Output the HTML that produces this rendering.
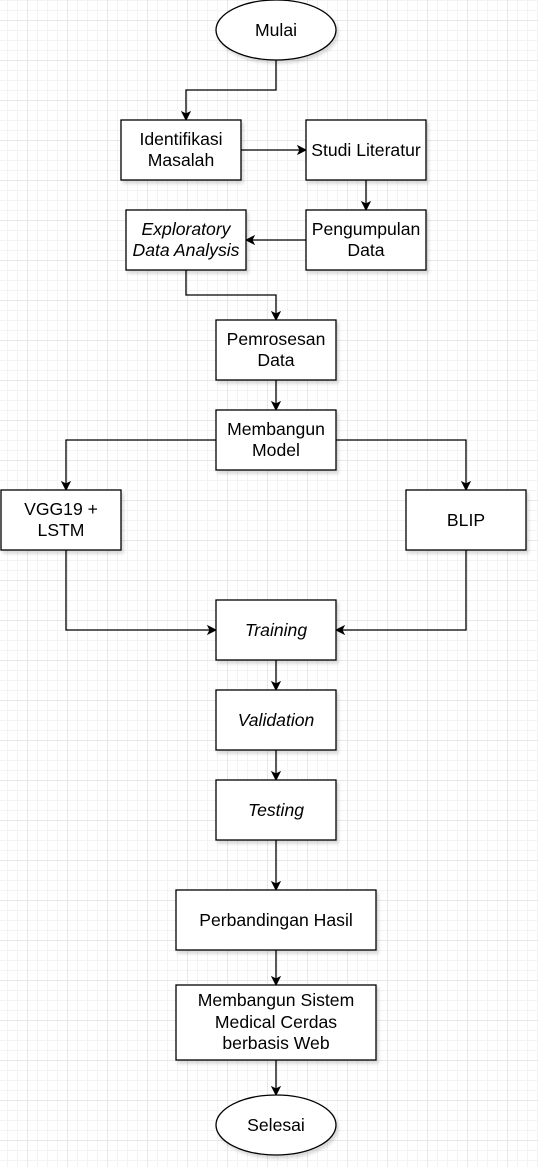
<!DOCTYPE html>
<html><head><style>
html,body{margin:0;padding:0;background:#fff}
body{width:538px;height:1167px;overflow:hidden;
background-image:
linear-gradient(to right,#e8e8e8 1px,transparent 1px),
linear-gradient(to bottom,#e8e8e8 1px,transparent 1px),
linear-gradient(to right,#f3f3f3 1px,transparent 1px),
linear-gradient(to bottom,#f3f3f3 1px,transparent 1px);
background-size:40px 40px,40px 40px,10px 10px,10px 10px;
background-position:27px 20px,27px 20px,7px 0,7px 0;}
svg{position:absolute;left:0;top:0}
text{font-family:"Liberation Sans",sans-serif;font-size:17.6px;fill:#000;text-anchor:middle}
.i{font-style:italic}
rect,ellipse{fill:#fff;stroke:#000;stroke-width:1.3;filter:url(#sh)}
path{fill:none;stroke:#000;stroke-width:1.3}
</style></head><body>
<svg width="538" height="1167" viewBox="0 0 538 1167">
<defs>
<filter id="sh" x="-10%" y="-10%" width="130%" height="130%"><feDropShadow dx="2" dy="3" stdDeviation="1.5" flood-color="#000" flood-opacity="0.15"/></filter>
<marker id="a" markerWidth="10" markerHeight="10" refX="8" refY="5" orient="auto" markerUnits="userSpaceOnUse"><path d="M1,1 L9,5 L1,9 L3,5 Z" style="fill:#000;stroke:#000;stroke-width:1"/></marker>
</defs>
<g marker-end="url(#a)">
<path d="M276,60 V90 H186 V119"/>
<path d="M241,150 H305"/>
<path d="M366,180 V209"/>
<path d="M306,240 H247"/>
<path d="M186,270 V295 H276 V319"/>
<path d="M276,380 V409"/>
<path d="M216,440 H66 V489"/>
<path d="M336,440 H466 V489"/>
<path d="M66,550 V630 H215"/>
<path d="M466,550 V630 H337"/>
<path d="M276,660 V689"/>
<path d="M276,750 V779"/>
<path d="M276,840 V889"/>
<path d="M276,950 V984"/>
<path d="M276,1060 V1094"/>
</g>
<ellipse cx="276" cy="30" rx="60" ry="30"/><text x="276" y="36">Mulai</text>
<rect x="121" y="120" width="120" height="60"/><text x="181" y="145">Identifikasi</text><text x="181" y="166">Masalah</text>
<rect x="306" y="120" width="120" height="60"/><text x="366" y="156">Studi Literatur</text>
<rect x="306" y="210" width="120" height="60"/><text x="366" y="235">Pengumpulan</text><text x="366" y="256">Data</text>
<rect x="126" y="210" width="120" height="60"/><text class="i" x="186" y="235">Exploratory</text><text class="i" x="186" y="256">Data Analysis</text>
<rect x="216" y="320" width="120" height="60"/><text x="276" y="345">Pemrosesan</text><text x="276" y="366">Data</text>
<rect x="216" y="410" width="120" height="60"/><text x="276" y="435">Membangun</text><text x="276" y="456">Model</text>
<rect x="1" y="490" width="120" height="60"/><text x="61" y="515">VGG19 +</text><text x="61" y="536">LSTM</text>
<rect x="406" y="490" width="120" height="60"/><text x="466" y="526">BLIP</text>
<rect x="216" y="600" width="120" height="60"/><text class="i" x="276" y="636">Training</text>
<rect x="216" y="690" width="120" height="60"/><text class="i" x="276" y="726">Validation</text>
<rect x="216" y="780" width="120" height="60"/><text class="i" x="276" y="816">Testing</text>
<rect x="176" y="890" width="200" height="60"/><text x="276" y="926">Perbandingan Hasil</text>
<rect x="176" y="985" width="200" height="75"/><text x="276" y="1006">Membangun Sistem</text><text x="276" y="1028">Medical Cerdas</text><text x="276" y="1049">berbasis Web</text>
<ellipse cx="276" cy="1125" rx="60" ry="30"/><text x="276" y="1131">Selesai</text>
</svg>
</body></html>
